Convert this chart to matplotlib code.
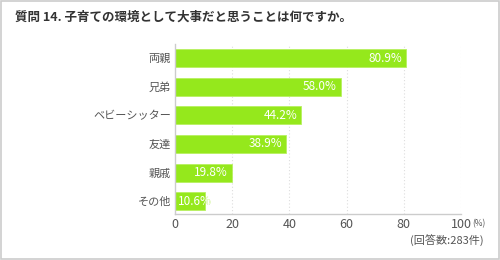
import matplotlib.pyplot as plt
from matplotlib.patches import Rectangle

plt.rcParams['font.family'] = ['Noto Sans CJK JP', 'DejaVu Sans']

# data
categories = ['両親', '兄弟', 'ベビーシッター', '友達', '親戚', 'その他']
values = [80.9, 58.0, 44.2, 38.9, 19.8, 10.6]
xticks = [0, 20, 40, 60, 80, 100]
title = '質問 14. 子育ての環境として大事だと思うことは何ですか。'
note = '(回答数:283件)'

bar_color = '#95e81c'
grey = '#555555'

fig = plt.figure(figsize=(5, 2.6), dpi=100)
ax = fig.add_axes([0.35, 0.177, 0.572, 0.654])

ypos = list(range(len(categories)))
bars = ax.barh(ypos, values, height=0.63, color=bar_color,
               edgecolor='#b8f060', linewidth=0.6, zorder=2)

ax.set_xlim(0, 100)
ax.set_ylim(len(categories) - 0.55, -0.5)
ax.set_yticks(ypos)
ax.set_yticklabels(categories, fontsize=8, color=grey)
ax.set_xticks(xticks)
ax.set_xticklabels([str(t) for t in xticks], fontsize=9, color=grey)
ax.tick_params(axis='both', length=0, pad=3)
ax.tick_params(axis='x', pad=3)

for s in ['top', 'right']:
    ax.spines[s].set_visible(False)
for s in ['left', 'bottom']:
    ax.spines[s].set_color('#cccccc')
    ax.spines[s].set_linewidth(1)

# dotted grid
for t in xticks[1:]:
    ax.axvline(t, color='#dddddd', linestyle=(0, (1, 2)), linewidth=0.8, zorder=1)

# value labels, white inside the bar, green where it sticks out
for b, v in zip(bars, values):
    txt = f'{v:.1f}%'
    y = b.get_y() + b.get_height() / 2
    if v > 15:
        ax.text(v - 1.4, y, txt, ha='right', va='center', color='white',
                fontsize=8.5, zorder=3)
    else:
        ax.text(1.0, y, txt, ha='left', va='center', color=bar_color,
                fontsize=8.5, zorder=3)
        t = ax.text(1.0, y, txt, ha='left', va='center', color='white',
                    fontsize=8.5, zorder=4)
        t.set_clip_path(b)

fig.text(0.944, 0.138, '(%)', fontsize=6, color=grey, ha='left', va='center')
fig.text(0.968, 0.073, note, fontsize=8, color=grey, ha='right', va='center')
fig.text(0.03, 0.935, title, fontsize=9, color='#333333', fontweight='bold',
         ha='left', va='center')

# outer border
fig.patches.append(Rectangle((0.002, 0.004), 0.996, 0.992, transform=fig.transFigure,
                             fill=False, edgecolor='#cccccc', linewidth=1.2))

fig.savefig('out.png', dpi=100)
